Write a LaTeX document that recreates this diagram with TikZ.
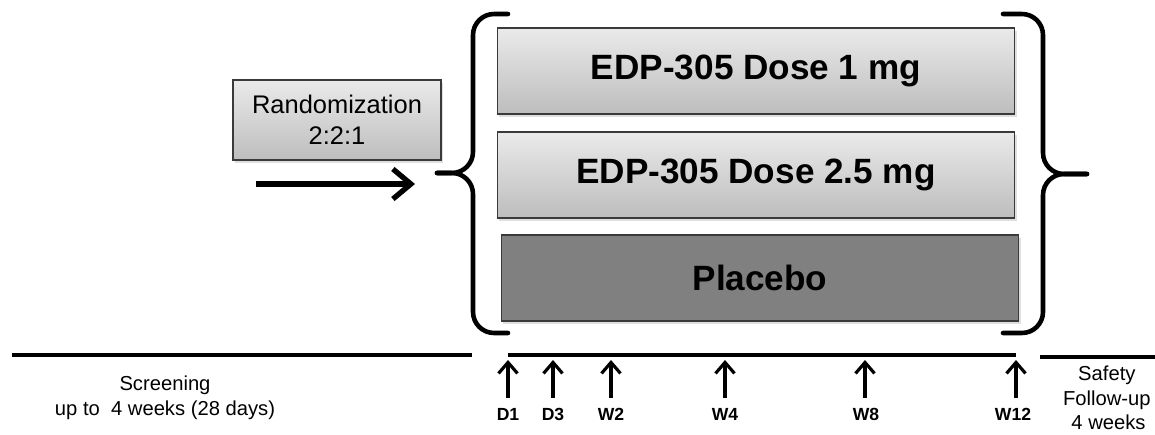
\documentclass[tikz,border=0pt]{standalone}
\usepackage{fontspec}
\setmainfont{Liberation Sans}
\usepackage{tikz}
\usetikzlibrary{arrows.meta, positioning, shadows}
\definecolor{armTop}{HTML}{EAEAEA}
\definecolor{armBottom}{HTML}{BDBDBD}
\definecolor{armPlacebo}{HTML}{808080}
\definecolor{armEdge}{HTML}{3A3A3A}

\begin{document}
\begin{tikzpicture}[
  x=0.02cm, y=-0.02cm,
  arm/.style={draw=armEdge, line width=0.6pt, top color=armTop, bottom color=armBottom,
              minimum width=10.36cm, minimum height=1.72cm, align=center,
              font=\fontsize{20}{23}\selectfont\bfseries,
              drop shadow={opacity=0.25, shadow xshift=1pt, shadow yshift=-1.5pt}},
  placebo/.style={arm, top color=armPlacebo, bottom color=armPlacebo},
  rand/.style={draw=armEdge, line width=0.6pt, top color=armTop, bottom color=armBottom,
               minimum width=4.16cm, minimum height=1.6cm, align=center,
               font=\fontsize{14.5}{17.5}\selectfont,
               drop shadow={opacity=0.25, shadow xshift=1pt, shadow yshift=-1.5pt}},
  brace/.style={line width=2.6pt, line cap=round, rounded corners=12pt},
  period/.style={line width=2.8pt},
  visit/.style={font=\fontsize{10}{12}\selectfont\bfseries},
  note/.style={align=center, font=\fontsize{11.5}{14}\selectfont},
  big/.style={-{Straight Barb[length=3.6mm, width=6mm, line width=3pt]}, line width=3.2pt},
  up/.style={-{Straight Barb[length=2.2mm, width=3.8mm, line width=1.8pt]}, line width=1.9pt}
]
\useasboundingbox (0,0) rectangle (1155,435);

% treatment arms
\node[arm] (dose1) at (756,71) {EDP-305 Dose 1 mg};
\node[arm] (dose2) at (756,175) {EDP-305 Dose 2.5 mg};
\node[placebo] (plac) at (760,278) {Placebo};
\node[rand] (rando) at (337,120) {Randomization\\2:2:1};

% braces round the arms
\draw[brace] (508,14) -- (473,14) -- (473,173) -- (437,173);
\draw[brace] (437,173) -- (473,173) -- (473,333) -- (508,333);
\draw[brace] (1003,14) -- (1043,14) -- (1043,174) -- (1087,174);
\draw[brace] (1087,174) -- (1043,174) -- (1043,333) -- (1003,333);

\coordinate (entryA) at (256,184);
\coordinate (entryB) at (415,184);
\draw[big] (entryA) -- (entryB);

% timeline
\coordinate (scrA) at (12,355);
\coordinate (scrB) at (472,355);
\coordinate (trtA) at (508,355);
\coordinate (trtB) at (1016,355);
\coordinate (fupA) at (1040,357);
\coordinate (fupB) at (1155,357);
\draw[period] (scrA) -- (scrB);
\draw[period, line width=2.4pt] (trtA) -- (trtB);
\draw[period] (fupA) -- (fupB);

\node[visit] (d1) at (508,414) {D1};
\node[visit] (d3) at (553,414) {D3};
\node[visit] (w2) at (611,414) {W2};
\node[visit] (w4) at (725,414) {W4};
\node[visit] (w8) at (866,414) {W8};
\node[visit] (w12) at (1013,414) {W12};

\draw[up] (508,398) -- (508,360);
\draw[up] (553,398) -- (553,360);
\draw[up] (611,398) -- (611,360);
\draw[up] (725,398) -- (725,360);
\draw[up] (865,398) -- (865,360);
\draw[up] (1016,398) -- (1016,360);

\node[note] (screen) at (165,398) {Screening\\up to~~4 weeks (28 days)};
\node[note, anchor=east, inner sep=0pt] (safety) at (1151,398) {Safety\\Follow-up\\\,4 weeks};
\end{tikzpicture}
\end{document}
